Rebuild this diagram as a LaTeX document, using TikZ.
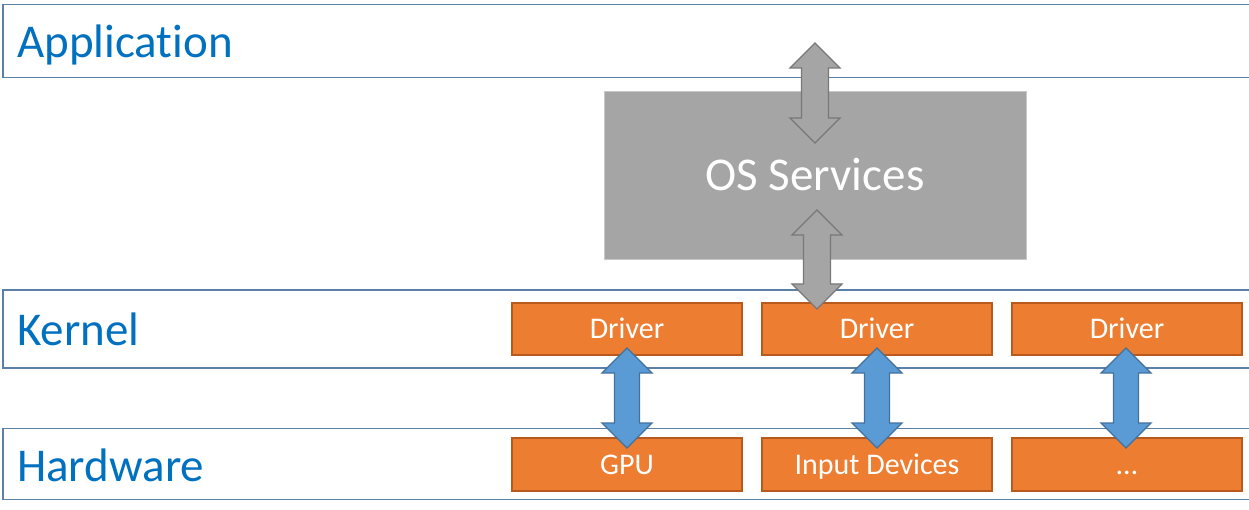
\documentclass[tikz,border=0pt]{standalone}
\usepackage{fontspec}
\setmainfont{Carlito}[Ligatures=NoCommon]
\usetikzlibrary{calc}
\definecolor{bandline}{HTML}{5A80A9}
\definecolor{labelblue}{HTML}{0070C0}
\definecolor{orfill}{HTML}{ED7D31}
\definecolor{ordraw}{HTML}{B85A1E}
\definecolor{osfill}{HTML}{A5A5A5}
\definecolor{osdraw}{HTML}{C8C8C8}
\definecolor{gafill}{HTML}{A5A5A5}
\definecolor{gadraw}{HTML}{787878}
\definecolor{bafill}{HTML}{5B9BD5}
\definecolor{badraw}{HTML}{41719C}
\newcommand\blockarrow[4]{%
  \draw[#1] let \p1=(#2), \p2=(#3) in
    (\x1,\y1) -- (\x1+25pt,\y1-25pt) -- (\x1+#4,\y1-25pt) -- (\x1+#4,\y2+25pt)
    -- (\x1+25pt,\y2+25pt) -- (\x1,\y2) -- (\x1-25pt,\y2+25pt) -- (\x1-#4,\y2+25pt)
    -- (\x1-#4,\y1-25pt) -- (\x1-25pt,\y1-25pt) -- cycle;}
\tikzset{
  band/.style={draw=bandline, line width=1.6pt, fill=white, inner sep=0pt, outer sep=0pt, minimum width=1300pt, anchor=north west},
  bandlabel/.style={text=labelblue, font=\fontsize{47}{50}\selectfont, inner sep=0pt, anchor=base west},
  osbox/.style={draw=osdraw, line width=1pt, fill=osfill, text=white, font=\fontsize{47}{50}\selectfont, text height=29.5pt, text depth=0pt, inner sep=0pt, minimum width=422pt, minimum height=168pt},
  orbox/.style={draw=ordraw, line width=1.3pt, fill=orfill, text=white, font=\fontsize{30}{34}\selectfont, text height=19pt, text depth=0pt, inner sep=0pt, minimum width=230pt},
  grayarrow/.style={fill=gafill, draw=gadraw, line width=1.3pt, line join=miter},
  bluearrow/.style={fill=bafill, draw=badraw, line width=1.3pt, line join=miter}
}
\begin{document}
\begin{tikzpicture}[x=1pt,y=-1pt]
\useasboundingbox (0,0) rectangle (1249,510);
\clip (0,0) rectangle (1249,510);
\fill[white] (0,0) rectangle (1249,510);
% bands
\node[band, minimum height=73pt] (app) at (3,4.5) {};
\node[band, minimum height=78pt] (kern) at (3,290) {};
\node[band, minimum height=71pt] (hw) at (3,428.5) {};
\node[bandlabel] (applbl) at (17,58) {Application};
\node[bandlabel] (kernlbl) at (17,345) {Kernel};
\node[bandlabel] (hwlbl) at (17,481) {Hardware};
% OS services
\node[osbox] (os) at (815,176) {OS Services};
% drivers and devices
\node[orbox, minimum height=52pt] (drv1) at (627,329) {Driver};
\node[orbox, minimum height=52pt] (drv2) at (877,329) {Driver};
\node[orbox, minimum height=52pt] (drv3) at (1127,329) {Driver};
\node[orbox, minimum height=53pt] (gpu) at (627,464.5) {GPU};
\node[orbox, minimum height=53pt] (inp) at (877,464.5) {Input Devices};
\node[orbox, minimum height=53pt] (etc) at (1127,464.5) {…};
% arrow end points
\coordinate (a1t) at (815,43);
\coordinate (a1b) at (815,143);
\coordinate (a2t) at (817,210);
\coordinate (a2b) at (817,309);
\coordinate (b1t) at (627,348);
\coordinate (b1b) at (627,448);
\coordinate (b2t) at (877,348);
\coordinate (b2b) at (877,448);
\coordinate (b3t) at (1126,348);
\coordinate (b3b) at (1126,448);
\blockarrow{grayarrow}{a1t}{a1b}{13.5pt}
\blockarrow{grayarrow}{a2t}{a2b}{13.5pt}
\blockarrow{bluearrow}{b1t}{b1b}{12.5pt}
\blockarrow{bluearrow}{b2t}{b2b}{12.5pt}
\blockarrow{bluearrow}{b3t}{b3b}{12.5pt}
\end{tikzpicture}
\end{document}
